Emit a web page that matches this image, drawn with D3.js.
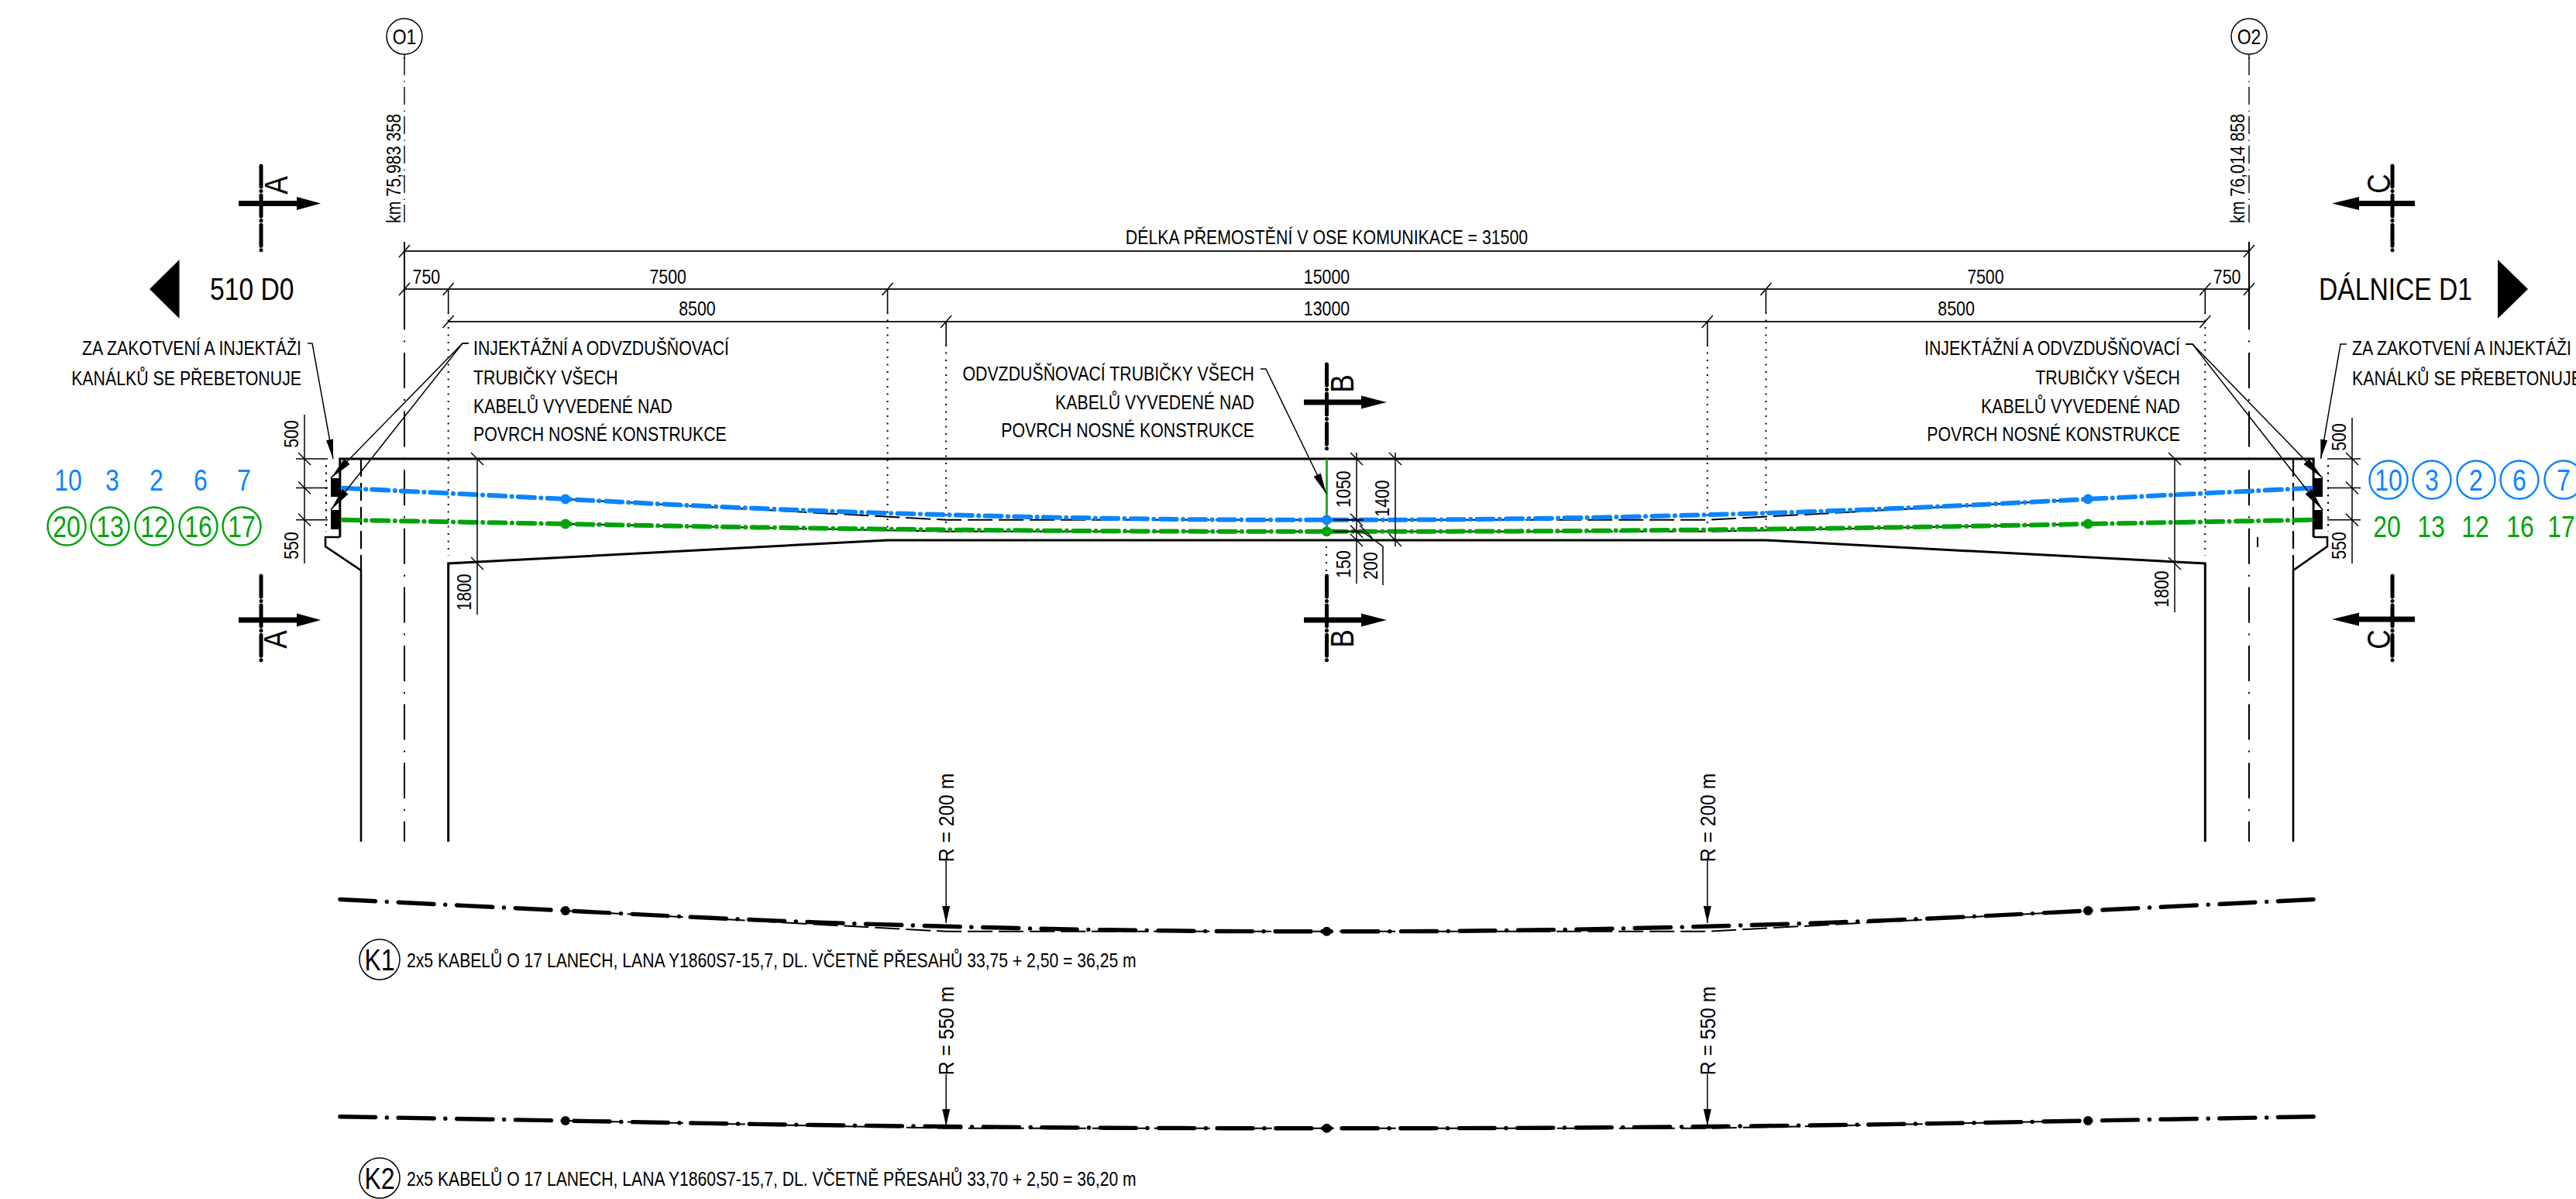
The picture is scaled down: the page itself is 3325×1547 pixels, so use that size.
<!DOCTYPE html>
<html>
<head>
<meta charset="utf-8">
<script src="https://cdn.jsdelivr.net/npm/d3@7/dist/d3.min.js"></script>
<style>
  html, body { margin: 0; background: #fff; overflow: hidden; }
  text { font-family: "Liberation Sans", Arial, sans-serif; fill: #000; }
</style>
</head>
<body>
<div id="chart"></div>
<script>
// bridge geometry in mm: station along the deck, depth below the deck top
const bridgeLength = 31500;
const deckDepth = 1400;
const spanStops = [0, 750, 8250, 23250, 30750, 31500];
const spanLabels = ["750", "7500", "15000", "7500", "750"];
const cableStops = [750, 9250, 22250, 30750];
const cableLabels = ["8500", "13000", "8500"];
const soffitStations = [750, 8250, 23250, 30750];
const soffitDepths = [1800, 1400, 1400, 1800];

// half of each tendon, the other half is the mirror image
const tendonStations = [-1100, 2750, 5000, 7000, 9250, 11000, 12500, 14000, 15750];
const tendonUpper = [500, 693, 807, 891, 963, 1005, 1031, 1047, 1050];
const tendonLower = [1050, 1120, 1162, 1193, 1220, 1236, 1245, 1249, 1250];
const tangentStations = [2750, 9250, 22250, 28750];
const tangentUpper = [693, 1050, 1050, 693];
const tangentLower = [1120, 1250, 1250, 1120];
const nodeStations = [2750, 15750, 28750];

const blueNumbers = ["10", "3", "2", "6", "7"];
const greenNumbers = ["20", "13", "12", "16", "17"];
const anchorText = ["ZA ZAKOTVENÍ A INJEKTÁŽI", "KANÁLKŮ SE PŘEBETONUJE"];
const groutText = ["INJEKTÁŽNÍ A ODVZDUŠŇOVACÍ", "TRUBIČKY VŠECH", "KABELŮ VYVEDENÉ NAD", "POVRCH NOSNÉ KONSTRUKCE"];
const ventText = ["ODVZDUŠŇOVACÍ TRUBIČKY VŠECH", "KABELŮ VYVEDENÉ NAD", "POVRCH NOSNÉ KONSTRUKCE"];
const k1Text = "2x5 KABELŮ O 17 LANECH, LANA Y1860S7-15,7, DL. VČETNĚ PŘESAHŮ 33,75 + 2,50 = 36,25 m";
const k2Text = "2x5 KABELŮ O 17 LANECH, LANA Y1860S7-15,7, DL. VČETNĚ PŘESAHŮ 33,70 + 2,50 = 36,20 m";

const blue = "#0a84ff", green = "#00a30a";
const squeeze = 0.82;

const x = d3.scaleLinear().domain([0, bridgeLength]).range([522, 2903]);
const xMirror = d3.scaleLinear().domain([bridgeLength, 0]).range([522, 2903]);
const y = d3.scaleLinear().domain([0, deckDepth]).range([592, 697]);
const yK1 = y.copy().range([1123, 1228]);
const yK2 = y.copy().range([1362, 1467]);

const svg = d3.select("#chart").append("svg")
  .attr("width", 3325).attr("height", 1547).attr("viewBox", "0 0 3325 1547");

const path = d3.line();

function draw(pts, width = 2, dash = null, color = "#000") {
  return svg.append("path")
    .attr("d", path(pts))
    .attr("fill", "none")
    .attr("stroke", color)
    .attr("stroke-width", width)
    .attr("stroke-dasharray", dash);
}

function fillShape(pts, color = "#000") {
  svg.append("path").attr("d", path(pts) + "Z").attr("fill", color);
}

function label(str, px, py, opts = {}) {
  const { size = 26, anchor = "middle", rot = 0, fill = "#000", sx = squeeze } = opts;
  svg.append("text")
    .attr("transform", `translate(${px},${py}) rotate(${rot}) scale(${sx},1)`)
    .attr("text-anchor", anchor)
    .attr("font-size", size)
    .style("fill", fill)
    .text(str);
}

function tickH(px, py) { draw([[px - 7, py + 8], [px + 7, py - 8]], 1.5); }
function tickV(px, py) { draw([[px - 8, py - 8], [px + 8, py + 8]], 1.5); }

function arrowHead(tip, from, len = 27, half = 5) {
  const dx = from[0] - tip[0], dy = from[1] - tip[1], d = Math.hypot(dx, dy);
  const ux = dx / d, uy = dy / d;
  fillShape([tip,
    [tip[0] + ux * len - uy * half, tip[1] + uy * len + ux * half],
    [tip[0] + ux * len + uy * half, tip[1] + uy * len - ux * half]]);
}

// dimension chains
function chain(stops, labels, lineY, textY) {
  draw([[x(stops[0]), lineY], [x(stops[stops.length - 1]), lineY]], 1.8, null, "#222");
  stops.forEach(s => tickH(x(s), lineY));
  labels.forEach((t, i) => label(t, (x(stops[i]) + x(stops[i + 1])) / 2, textY));
}
draw([[x(0), 324], [x(bridgeLength), 324]], 1.8, null, "#222");
tickH(x(0), 324); tickH(x(bridgeLength), 324);
label("DÉLKA PŘEMOSTĚNÍ V OSE KOMUNIKACE = 31500", x(bridgeLength / 2), 315);
chain(spanStops, spanLabels, 373, 366);
chain(cableStops, cableLabels, 415, 407);

// pier axes with bubbles
[[0, "O1", "km 75,983 358", 517], [bridgeLength, "O2", "km 76,014 858", 2897]].forEach(([s, name, km, kmX]) => {
  const px = x(s);
  svg.append("circle").attr("cx", px).attr("cy", 47).attr("r", 23)
    .attr("fill", "none").attr("stroke", "#000").attr("stroke-width", 1.5);
  label(name, px, 57, { size: 28 });
  draw([[px, 70], [px, 76]], 1.4);
  draw([[px, 74], [px, 289]], 1.4, "23 7.5 1.5 6");
  label(km, kmX, 288, { rot: -90, anchor: "start" });
  draw([[px, 312], [px, 381]], 2);
  draw([[px, 379.4], [px, 1086]], 2, "46 14 2 13.6");
});

// extension lines from the chains down into the deck
[[750, 373, 717], [30750, 373, 717], [8250, 373, 686], [23250, 373, 686], [9250, 415, 678], [22250, 415, 678]]
  .forEach(([s, top, bottom]) => {
    draw([[x(s), top], [x(s), top + 30]], 1.6);
    draw([[x(s), top + 30], [x(s), bottom]], 2, "2 7.5");
  });
draw([[421, 600], [421, 686]], 2, "2.5 7");
draw([[3005, 600], [3005, 686]], 2, "2.5 7");

// structure outline
const leftEnd = x(-1100), rightEnd = x(bridgeLength + 1100);
draw([[leftEnd, 693], [leftEnd, y(0)], [rightEnd, y(0)], [rightEnd, 693]], 3);
draw([[leftEnd, 693], [420, 693], [420, 705], [466, 736], [466, 1086]], 2.6);
draw([[rightEnd, 693], [3004, 693], [3004, 705], [2960, 736], [2960, 1086]], 2.6);
draw([[466, y(0)], [466, 736]], 2.2, "23 8");
draw([[2960, y(0)], [2960, 736]], 2.2, "23 8");
draw([[x(750), 1086]].concat(soffitStations.map((s, i) => [x(s), y(soffitDepths[i])])).concat([[x(30750), 1086]]), 3);
draw([[2914, 693], [2914, 706]], 2);

// tendons: each half is stroked from its anchor towards midspan
function tendon(depths, tangent, scaleY, color, width, dash, nodeR, dashOffset) {
  draw(tangentStations.map((s, i) => [x(s), scaleY(tangent[i])]), 2, "32 8");
  const curve = d3.line().curve(d3.curveCatmullRom);
  [x, xMirror].forEach(sx => {
    svg.append("path")
      .attr("d", curve(tendonStations.map((s, i) => [sx(s), scaleY(depths[i])])))
      .attr("fill", "none").attr("stroke", color).attr("stroke-width", width)
      .attr("stroke-linecap", "round")
      .attr("stroke-dasharray", dash).attr("stroke-dashoffset", dashOffset);
  });
  svg.selectAll(null).data(nodeStations).join("circle")
    .attr("cx", d => x(d))
    .attr("cy", (d, i) => scaleY(depths[i === 1 ? depths.length - 1 : 1]))
    .attr("r", nodeR).attr("fill", color);
}
draw([[x(15750), y(0)], [x(15750), y(1250)]], 2.6, null, green);
tendon(tendonUpper, tangentUpper, y, blue, 6, "21 8.3 0.1 8.3", 6.5, -4);
tendon(tendonLower, tangentLower, y, green, 6, "21 8.3 0.1 8.3", 6.5, -4);

// anchor blocks
[[427, 439], [2986, 2998]].forEach(([a, b]) => {
  [[617, 641], [658, 683]].forEach(([t, u]) => fillShape([[a, t], [b, t], [b, u], [a, u]]));
});

// dimensions at the deck ends
[[393, 535, 382, 423], [3036, 539, 3004, 3047]].forEach(([px, top, ext0, ext1]) => {
  draw([[px, top], [px, 727]], 1.5);
  [0, 500, 1050].forEach(d => {
    draw([[ext0, y(d)], [ext1, y(d)]], 1.5);
    tickV(px, y(d));
  });
});
label("500", 385, 560, { rot: -90 });
label("550", 385, 704, { rot: -90 });
label("500", 3028, 564, { rot: -90 });
label("550", 3028, 704, { rot: -90 });

[[616, 793, 608, 764], [2807, 790, 2799, 760]].forEach(([px, bottom, tx, ty]) => {
  draw([[px, y(0)], [px, bottom]], 1.5);
  tickV(px, y(0));
  tickV(px, y(1800));
  label("1800", tx, ty, { rot: -90 });
});

// dimensions at midspan
draw([[1751, 584], [1751, 753]], 1.5);
draw([[1801, 584], [1801, 705]], 1.5);
[y(0), y(1050), y(1250), y(1400)].forEach(py => tickV(1751, py));
tickV(1763, y(1250));
[y(0), y(1400)].forEach(py => tickV(1801, py));
draw([[1721, y(1050)], [1760, y(1050)]], 2);
draw([[1721, y(1250)], [1760, y(1250)]], 2);
draw([[1757, 685], [1785, 705], [1785, 755]], 1.5);
label("1050", 1743, 631, { rot: -90 });
label("1400", 1793, 643, { rot: -90 });
label("150", 1743, 728, { rot: -90 });
label("200", 1778, 730, { rot: -90 });
draw([[1712, 705], [1712, 737]], 2, "2 8");

// leaders and notes
function noteLines(lines, px, baselines, anchor) {
  lines.forEach((t, i) => label(t, px, baselines[i], { anchor }));
}
noteLines(anchorText, 389, [458, 497], "end");
noteLines(anchorText, 3036, [458, 497], "start");
noteLines(groutText, 611, [458, 496, 533, 569], "start");
noteLines(groutText, 2814, [458, 496, 533, 569], "end");
noteLines(ventText, 1619, [491, 528, 564], "end");

draw([[397, 443], [403, 443], [430, 592]], 1.5);
arrowHead([430, 592], [403, 443], 25, 4.5);
draw([[3029, 444], [3021, 444], [2995.5, 592]], 1.5);
arrowHead([2995.5, 592], [3021, 444], 25, 4.5);
[617, 658].forEach(t => {
  draw([[605, 443], [597, 443], [427, t]], 1.5);
  arrowHead([427, t], [597, 443], 30, 5);
  draw([[2821, 444], [2830, 444], [2998, t]], 1.5);
  arrowHead([2998, t], [2830, 444], 30, 5);
});
draw([[1627, 476], [1634, 476], [1712, 637]], 1.5);
arrowHead([1712, 637], [1634, 476], 27, 5);

// section marks
function section(px, top, arrowY, letter, letterX, letterY, tail, tip, base) {
  draw([[px, top], [px, top + 109]], 5, "27 5.5 0.1 5.5").attr("stroke-linecap", "round");
  draw([[tail, arrowY], [base, arrowY]], 7);
  fillShape([[tip, arrowY], [base, arrowY - 8.5], [base, arrowY + 8.5]]);
  label(letter, letterX, letterY, { size: 43, rot: -90 });
}
section(337, 214, 262.5, "A", 371, 239, 308, 414, 383);
section(337, 743, 800, "A", 370, 825, 308, 414, 383);
section(x(15750), 470, 519, "B", 1747, 495, 1683, 1790, 1757);
section(x(15750), 743, 800, "B", 1747, 824, 1683, 1790, 1757);
section(3088, 214, 262.5, "C", 3085, 237, 3117, 3010, 3045);
section(3088, 743, 799, "C", 3085, 825, 3117, 3010, 3045);

// road direction arrows
fillShape([[193, 373], [231.5, 335], [231.5, 411]]);
label("510 D0", 271, 387, { size: 41, anchor: "start" });
fillShape([[3263, 373], [3224, 335], [3224, 411]]);
label("DÁLNICE D1", 2993, 387, { size: 41, anchor: "start" });

// tendon numbers
const leftCols = [86, 142, 199, 256, 312];
const rightCols = [3083, 3139, 3196, 3252, 3309];
function ringed(strs, cols, cy, color) {
  strs.forEach((t, i) => {
    svg.append("circle").attr("cx", cols[i]).attr("cy", cy).attr("r", 24.5)
      .attr("fill", "none").attr("stroke", color).attr("stroke-width", 2.4);
    label(t, cols[i], cy + 14, { size: 39, fill: color });
  });
}
function plain(strs, cols, cy, color) {
  strs.forEach((t, i) => label(t, cols[i], cy + 14, { size: 39, fill: color }));
}
plain(blueNumbers, [88, 145, 202, 259, 315], 619, blue);
ringed(greenNumbers, leftCols, 679, green);
ringed(blueNumbers, rightCols, 619, blue);
plain(greenNumbers, [3081, 3138, 3195, 3253, 3306], 679, green);

// separate tendon profiles
function profile(depths, tangent, scaleY, radius, radiusY, tip, top, bubble, descr, descrY, name) {
  tendon(depths, tangent, scaleY, "#000", 5.4, "46 14.7 0.1 14.7", 6, 0);
  [9250, 22250].forEach(s => {
    draw([[x(s), top], [x(s), tip]], 1.5);
    arrowHead([x(s), tip], [x(s), top], 22, 5);
    label(radius, x(s) + 10, radiusY, { rot: -90, size: 28, sx: 0.88 });
  });
  svg.append("circle").attr("cx", 490).attr("cy", bubble).attr("r", 26)
    .attr("fill", "none").attr("stroke", "#000").attr("stroke-width", 1.5);
  label(name, 490, bubble + 14, { size: 39 });
  label(descr, 525, descrY, { anchor: "start", sx: 0.813 });
}
profile(tendonUpper, tangentUpper, yK1, "R = 200 m", 1055, 1191, 1107, 1238, k1Text, 1248, "K1");
profile(tendonLower, tangentLower, yK2, "R = 550 m", 1330, 1453, 1386, 1520, k2Text, 1530, "K2");
</script>
</body>
</html>
